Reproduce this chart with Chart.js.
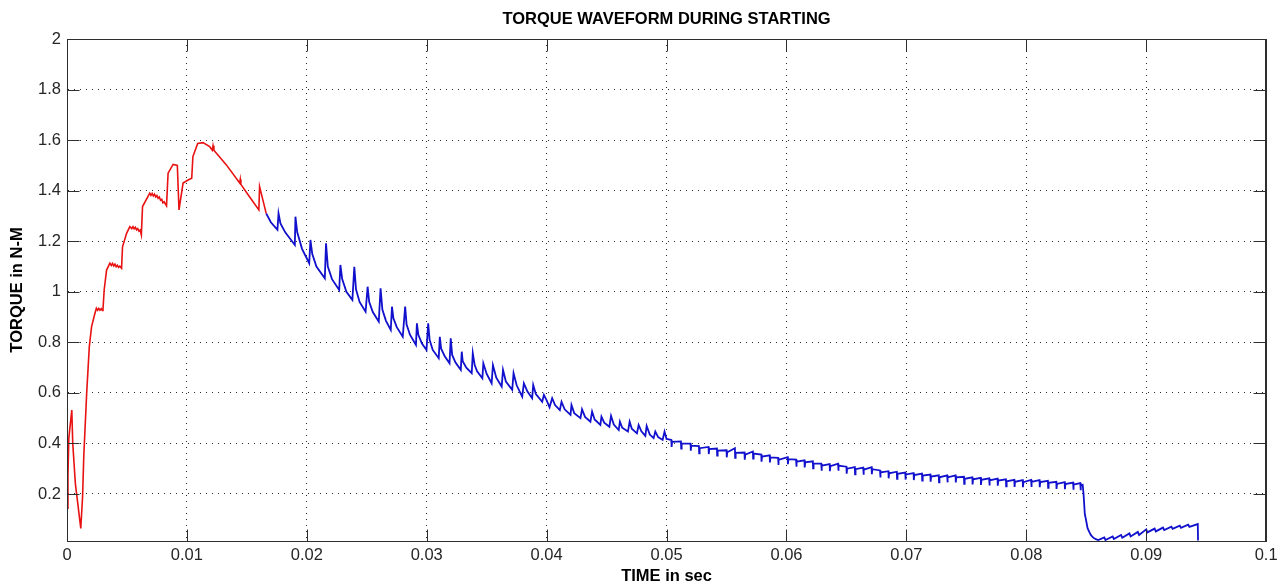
<!DOCTYPE html>
<html>
<head>
<meta charset="utf-8">
<script src="https://cdn.jsdelivr.net/npm/chart.js@4/dist/chart.umd.min.js"></script>
<style>
  html, body { margin: 0; padding: 0; background: #ffffff; }
  #wrap { width: 1282px; height: 587px; }
</style>
</head>
<body>
<div id="wrap"><canvas id="c" width="1282" height="587"></canvas></div>
<script>
// ---------------- DATA ----------------
const chartTitle = 'TORQUE WAVEFORM DURING STARTING';
const xAxisTitle = 'TIME in sec';
const yAxisTitle = 'TORQUE in N-M';

const xMin = 0, xMax = 0.1;
const yMin = 0.014, yMax = 2;
const xTicks = [0, 0.01, 0.02, 0.03, 0.04, 0.05, 0.06, 0.07, 0.08, 0.09, 0.1];
const yTicks = [0.2, 0.4, 0.6, 0.8, 1, 1.2, 1.4, 1.6, 1.8, 2];

// red part of the waveform (start-up, 0 .. ~0.0166 s)
const redT = [
  0, 0.00008, 0.00015, 0.0004, 0.00048, 0.0007, 0.00115, 0.0013, 0.0014, 0.00164,
  0.00186, 0.00205, 0.00233, 0.00245, 0.00255, 0.00265, 0.00275, 0.00285, 0.00295, 0.003,
  0.0031, 0.0033, 0.00358, 0.0037, 0.0038, 0.0039, 0.0040, 0.0041, 0.0042, 0.0043,
  0.0044, 0.00455, 0.00463, 0.00497, 0.00524, 0.0054, 0.0055, 0.0056, 0.0057, 0.0058,
  0.0059, 0.0060, 0.0061, 0.0062, 0.0063, 0.0069, 0.0070, 0.0071, 0.0072, 0.0073,
  0.0074, 0.0075, 0.0076, 0.0077, 0.0078, 0.0079, 0.0080, 0.0081, 0.0083, 0.00843,
  0.00885, 0.0092, 0.00934, 0.00968, 0.0101, 0.0104, 0.0105, 0.0109, 0.01134, 0.0119,
  0.01212, 0.01218, 0.01225, 0.01329, 0.0144, 0.01445, 0.0145, 0.01522, 0.016, 0.01606,
  0.01661
];
const redY = [
  0.144, 0.27, 0.42, 0.532, 0.40, 0.24, 0.064, 0.19, 0.35, 0.598,
  0.783, 0.862, 0.915, 0.935, 0.927, 0.934, 0.927, 0.933, 0.926, 0.93,
  1.007, 1.086, 1.113, 1.104, 1.112, 1.102, 1.109, 1.099, 1.105, 1.096,
  1.101, 1.093, 1.178, 1.231, 1.258, 1.250, 1.258, 1.249, 1.255, 1.245,
  1.250, 1.240, 1.244, 1.225, 1.337, 1.39, 1.381, 1.389, 1.379, 1.386,
  1.375, 1.381, 1.370, 1.375, 1.362, 1.366, 1.352, 1.356, 1.34, 1.469,
  1.504, 1.50, 1.324, 1.43, 1.442, 1.449, 1.535, 1.587, 1.59, 1.574,
  1.56, 1.578, 1.56, 1.502, 1.43, 1.445, 1.425, 1.376, 1.324, 1.416,
  1.31
];

// blue part of the waveform (~0.0166 .. ~0.0943 s)
const blueT = [
  0.01661, 0.0170, 0.01755, 0.01764, 0.0178, 0.0182, 0.0190, 0.01905, 0.0192, 0.0196,
  0.0202, 0.0203, 0.02045, 0.0208, 0.0215, 0.0216, 0.02175, 0.0221, 0.0227, 0.0228,
  0.02295, 0.0233, 0.0238, 0.02396, 0.0241, 0.0244, 0.0249, 0.02507, 0.0252, 0.0255,
  0.0260, 0.02615, 0.0263, 0.0266, 0.0270, 0.0271, 0.02722, 0.0275, 0.0280, 0.0282,
  0.02832, 0.0286, 0.0291, 0.02918, 0.0293, 0.0296, 0.02998, 0.03012, 0.03024, 0.0305,
  0.0310, 0.03109, 0.0312, 0.0315, 0.0319, 0.0320, 0.03212, 0.0324, 0.03284, 0.03292,
  0.0330, 0.0333, 0.03375, 0.03384, 0.0340, 0.0342, 0.03464, 0.03472, 0.0350, 0.03541,
  0.03552, 0.0358, 0.03625, 0.03636, 0.0366, 0.03713, 0.03724, 0.0375, 0.03796, 0.0381,
  0.0384, 0.03879, 0.03888, 0.0391, 0.03963, 0.03977, 0.0400, 0.04024, 0.04046, 0.0407,
  0.0411, 0.04124, 0.0415, 0.04199, 0.04207, 0.0423, 0.04282, 0.04295, 0.0432, 0.04365,
  0.04379, 0.0440, 0.04448, 0.04457, 0.0448, 0.04523, 0.04537, 0.0456, 0.04601, 0.04611,
  0.0463, 0.04678, 0.04692, 0.0471, 0.04753, 0.04767, 0.0479, 0.04823, 0.04834, 0.0486,
  0.04892, 0.04906, 0.0493, 0.04967, 0.04983, 0.0500,
  0.0504, 0.05042, 0.05046, 0.0512, 0.05122, 0.05126, 0.0520, 0.05202, 0.05206,
  0.0527, 0.05272, 0.05276, 0.0535, 0.05352, 0.05356, 0.0542, 0.05422, 0.05426,
  0.0550, 0.05502, 0.05506, 0.0557, 0.05572, 0.05576, 0.0565, 0.05652, 0.05656,
  0.0572, 0.05722, 0.05726, 0.0579, 0.05792, 0.05796, 0.0586, 0.05862, 0.05866,
  0.0593, 0.05932, 0.05936, 0.0601, 0.06012, 0.06016, 0.0608, 0.06082, 0.06086,
  0.0615, 0.06152, 0.06156, 0.0622, 0.06222, 0.06226, 0.0629, 0.06292, 0.06296,
  0.0636, 0.06362, 0.06366, 0.0643, 0.06432, 0.06436, 0.0650, 0.06502, 0.06506,
  0.0657, 0.06572, 0.06576, 0.0664, 0.06642, 0.06646, 0.0671, 0.06712, 0.06716,
  0.0678, 0.06782, 0.06786, 0.0685, 0.06852, 0.06856, 0.0692, 0.06922, 0.06926,
  0.0699, 0.06992, 0.06996, 0.0706, 0.07062, 0.07066, 0.0713, 0.07132, 0.07136,
  0.0720, 0.07202, 0.07206, 0.0727, 0.07272, 0.07276, 0.0734, 0.07342, 0.07346,
  0.0741, 0.07412, 0.07416, 0.0748, 0.07482, 0.07486, 0.0755, 0.07552, 0.07556,
  0.0762, 0.07622, 0.07626, 0.0769, 0.07692, 0.07696, 0.0776, 0.07762, 0.07766,
  0.0783, 0.07832, 0.07836, 0.0790, 0.07902, 0.07906, 0.0797, 0.07972, 0.07976,
  0.0804, 0.08042, 0.08046, 0.0811, 0.08112, 0.08116, 0.0818, 0.08182, 0.08186,
  0.0825, 0.08252, 0.08256, 0.0832, 0.08322, 0.08326, 0.0839, 0.08392, 0.08396,
  0.0845, 0.08452, 0.08456,
  0.0847, 0.08477, 0.08488, 0.08497, 0.08511, 0.08525, 0.08538, 0.08552, 0.08566, 0.0858,
  0.0860, 0.0865, 0.0866, 0.0872, 0.0873, 0.0879, 0.0880, 0.0886, 0.0887, 0.0893,
  0.0894, 0.0900, 0.0901, 0.0907, 0.0908, 0.0914, 0.0915, 0.0921, 0.0922, 0.0928,
  0.0929, 0.0935, 0.0936, 0.0943, 0.09432
];
const blueY = [
  1.31, 1.275, 1.245, 1.31, 1.27, 1.235, 1.185, 1.297, 1.235, 1.17,
  1.113, 1.205, 1.15, 1.10, 1.053, 1.192, 1.10, 1.05, 1.007, 1.106,
  1.05, 1.0, 0.968, 1.099, 1.01, 0.96, 0.921, 1.02, 0.96, 0.92,
  0.882, 1.014, 0.93, 0.885, 0.849, 0.941, 0.895, 0.86, 0.822, 0.941,
  0.87, 0.83, 0.79, 0.875, 0.83, 0.795, 0.77, 0.875, 0.81, 0.77,
  0.737, 0.822, 0.775, 0.745, 0.717, 0.816, 0.75, 0.72, 0.691, 0.763,
  0.725, 0.70, 0.678, 0.757, 0.71, 0.685, 0.658, 0.717, 0.675, 0.638,
  0.710, 0.66, 0.625, 0.691, 0.645, 0.612, 0.678, 0.63, 0.585, 0.638,
  0.605, 0.579, 0.631, 0.595, 0.565, 0.592, 0.57, 0.543, 0.579, 0.552,
  0.532, 0.565, 0.535, 0.513, 0.552, 0.52, 0.500, 0.535, 0.505, 0.486,
  0.526, 0.495, 0.473, 0.506, 0.482, 0.466, 0.509, 0.475, 0.453, 0.486,
  0.462, 0.447, 0.486, 0.458, 0.44, 0.473, 0.448, 0.43, 0.469, 0.435,
  0.421, 0.447, 0.425, 0.414, 0.447, 0.418,
  0.414, 0.386, 0.406, 0.408, 0.380, 0.400, 0.399, 0.371, 0.391,
  0.389, 0.361, 0.381, 0.386, 0.358, 0.378, 0.380, 0.352, 0.372,
  0.373, 0.345, 0.365, 0.381, 0.343, 0.363, 0.364, 0.336, 0.356,
  0.368, 0.340, 0.360, 0.356, 0.328, 0.348, 0.353, 0.325, 0.345,
  0.343, 0.315, 0.335, 0.346, 0.318, 0.338, 0.336, 0.308, 0.328,
  0.333, 0.305, 0.325, 0.329, 0.301, 0.321, 0.320, 0.292, 0.312,
  0.318, 0.290, 0.310, 0.320, 0.292, 0.312, 0.308, 0.280, 0.300,
  0.306, 0.278, 0.298, 0.304, 0.276, 0.296, 0.306, 0.278, 0.298,
  0.293, 0.265, 0.285, 0.290, 0.262, 0.282, 0.288, 0.260, 0.280,
  0.285, 0.257, 0.277, 0.283, 0.255, 0.275, 0.281, 0.253, 0.273,
  0.277, 0.249, 0.269, 0.274, 0.246, 0.266, 0.274, 0.246, 0.266,
  0.274, 0.246, 0.266, 0.268, 0.240, 0.260, 0.266, 0.238, 0.258,
  0.264, 0.236, 0.256, 0.262, 0.234, 0.254, 0.261, 0.233, 0.253,
  0.258, 0.230, 0.250, 0.256, 0.228, 0.248, 0.255, 0.227, 0.247,
  0.256, 0.228, 0.248, 0.255, 0.227, 0.247, 0.252, 0.224, 0.244,
  0.248, 0.220, 0.240, 0.247, 0.219, 0.239, 0.245, 0.217, 0.237,
  0.243, 0.215, 0.235,
  0.236, 0.203, 0.120, 0.100, 0.065, 0.050, 0.038, 0.030, 0.025, 0.021,
  0.018, 0.028, 0.018, 0.032, 0.022, 0.038, 0.027, 0.044, 0.032, 0.050,
  0.038, 0.060, 0.048, 0.063, 0.052, 0.067, 0.057, 0.071, 0.062, 0.075,
  0.066, 0.079, 0.070, 0.081, 0.016
];

// ---------------- CHART ----------------
const FONT = "'Liberation Sans', Arial, Helvetica, sans-serif";
const toPoints = (ts, ys) => ts.map((t, i) => ({ x: t, y: ys[i] }));

const framePlugin = {
  id: 'frame',
  afterDatasetsDraw(chart) {
    const { ctx, chartArea: a, scales } = chart;
    const sx = scales.x, sy = scales.y;
    const L = Math.round(a.left) + 0.5, R = Math.round(a.right) - 0.5;
    const T = Math.round(a.top) + 0.5, B = Math.round(a.bottom) + 0.5;
    const tl = 12;
    ctx.save();
    ctx.strokeStyle = '#2e2e2e';
    ctx.lineWidth = 1;
    ctx.setLineDash([]);
    ctx.beginPath();
    ctx.rect(L, T, R - L, B - T);
    sx.ticks.forEach(t => {
      const px = Math.round(sx.getPixelForValue(t.value)) + 0.5;
      ctx.moveTo(px, B); ctx.lineTo(px, B - tl);
      ctx.moveTo(px, T); ctx.lineTo(px, T + tl);
    });
    sy.ticks.forEach(t => {
      const py = Math.round(sy.getPixelForValue(t.value)) + 0.5;
      ctx.moveTo(L, py); ctx.lineTo(L + tl, py);
      ctx.moveTo(R, py); ctx.lineTo(R - tl, py);
    });
    ctx.stroke();
    ctx.restore();
  }
};

new Chart(document.getElementById('c'), {
  type: 'line',
  data: {
    datasets: [
      {
        label: 'red', data: toPoints(redT, redY),
        borderColor: 'rgb(232,18,18)', borderWidth: 1.6,
        pointRadius: 0, tension: 0, fill: false
      },
      {
        label: 'blue', data: toPoints(blueT, blueY),
        borderColor: 'rgb(16,16,205)', borderWidth: 1.8,
        pointRadius: 0, tension: 0, fill: false
      }
    ]
  },
  options: {
    responsive: false,
    animation: false,
    events: [],
    layout: { padding: 0 },
    plugins: { legend: { display: false }, tooltip: { enabled: false }, title: { display: false } },
    scales: {
      x: {
        type: 'linear', position: 'bottom', min: xMin, max: xMax,
        afterBuildTicks: s => { s.ticks = xTicks.map(v => ({ value: v })); },
        afterFit: s => { s.height = 46; },
        ticks: { font: { family: FONT, size: 16.5 }, color: '#262626', padding: 4.4, maxRotation: 0, autoSkip: false,
                 callback: v => String(v) },
        grid: { color: '#2a2a2a', lineWidth: 1, drawTicks: false },
        border: { display: true, color: '#2e2e2e', width: 1, dash: [1, 5] },
        title: { display: true, text: xAxisTitle, font: { family: FONT, size: 16.5, weight: 'bold' }, color: '#000',
                 padding: { top: 0, bottom: 0.4 } }
      },
      xTop: {
        type: 'linear', position: 'top', min: xMin, max: xMax,
        afterFit: s => { s.height = 39; },
        ticks: { display: false },
        grid: { display: false, drawTicks: false },
        border: { display: true, color: '#2e2e2e', width: 1 },
        title: { display: true, text: chartTitle, font: { family: FONT, size: 16.5, weight: 'bold' }, color: '#000',
                 padding: { top: 10, bottom: 0 } }
      },
      y: {
        type: 'linear', position: 'left', min: yMin, max: yMax,
        afterBuildTicks: s => { s.ticks = yTicks.map(v => ({ value: v })); },
        afterFit: s => { s.width = 67; },
        ticks: { font: { family: FONT, size: 16.5 }, color: '#262626', padding: 6, autoSkip: false,
                 callback: v => String(v) },
        grid: { color: '#2a2a2a', lineWidth: 1, drawTicks: false },
        border: { display: true, color: '#2e2e2e', width: 1, dash: [1, 5] },
        title: { display: true, text: yAxisTitle, font: { family: FONT, size: 16.5, weight: 'bold' }, color: '#000',
                 padding: { top: 7.5, bottom: 0 } }
      },
      yRight: {
        type: 'linear', position: 'right', min: yMin, max: yMax,
        afterFit: s => { s.width = 13; },
        ticks: { display: false },
        grid: { display: false, drawTicks: false },
        border: { display: true, color: '#2e2e2e', width: 1 }
      }
    }
  },
  plugins: [framePlugin]
});
</script>
</body>
</html>
